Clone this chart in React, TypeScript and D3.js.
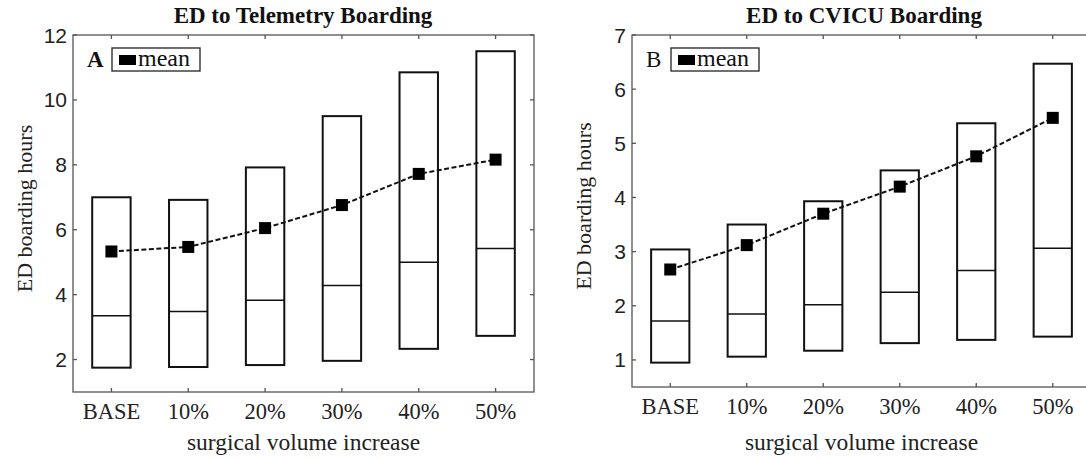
import React from "react";
import * as d3 from "d3";

// Scenario labels along the x axis
const categories = ["BASE", "10%", "20%", "30%", "40%", "50%"];

// Panel A: ED to Telemetry boarding hours
const telemetryUpper = [7.0, 6.92, 7.92, 9.5, 10.85, 11.5];
const telemetryMedian = [3.35, 3.48, 3.83, 4.28, 5.0, 5.42];
const telemetryLower = [1.75, 1.77, 1.83, 1.96, 2.33, 2.73];
const telemetryMean = [5.33, 5.47, 6.05, 6.76, 7.72, 8.16];
const telemetryTicks = [2, 4, 6, 8, 10, 12];

// Panel B: ED to CVICU boarding hours
const cvicuUpper = [3.04, 3.5, 3.93, 4.5, 5.37, 6.47];
const cvicuMedian = [1.72, 1.85, 2.02, 2.25, 2.65, 3.06];
const cvicuLower = [0.95, 1.06, 1.17, 1.31, 1.37, 1.43];
const cvicuMean = [2.67, 3.12, 3.7, 4.2, 4.76, 5.47];
const cvicuTicks = [1, 2, 3, 4, 5, 6, 7];

const SERIF = "'Liberation Serif', 'Times New Roman', serif";
const SANS = "'Liberation Sans', Arial, sans-serif";

type PanelProps = {
  title: string;
  letter: string;
  letterBold: boolean;
  left: number;
  right: number;
  top: number;
  bottom: number;
  yDomain: [number, number];
  yTicks: number[];
  upper: number[];
  median: number[];
  lower: number[];
  mean: number[];
  titleX: number;
};

function Panel(p: PanelProps) {
  const x = d3
    .scaleLinear()
    .domain([0.5, categories.length + 0.5])
    .range([p.left, p.right]);
  const y = d3.scaleLinear().domain(p.yDomain).range([p.bottom, p.top]);
  const boxHalf = 0.25;
  const tickLen = 4;
  const axisColor = "#555";
  const idx = categories.map((_, i) => i + 1);

  const meanLine = d3
    .line<number>()
    .x((_, i) => x(i + 1))
    .y((d) => y(d));

  const markerSize = 12;

  return (
    <g>
      {/* title */}
      <text
        x={p.titleX}
        y={23}
        textAnchor="middle"
        fontFamily={SERIF}
        fontWeight="bold"
        fontSize={23}
        fill="#111"
      >
        {p.title}
      </text>

      {/* axes frame */}
      <rect
        x={p.left}
        y={p.top}
        width={p.right - p.left}
        height={p.bottom - p.top}
        fill="none"
        stroke={axisColor}
        strokeWidth={1.3}
      />

      {/* x ticks on bottom and top, pointing inward */}
      {idx.map((v) => (
        <g key={"xt" + v}>
          <line x1={x(v)} x2={x(v)} y1={p.bottom} y2={p.bottom - tickLen} stroke={axisColor} strokeWidth={1.3} />
          <line x1={x(v)} x2={x(v)} y1={p.top} y2={p.top + tickLen} stroke={axisColor} strokeWidth={1.3} />
          <text
            x={x(v)}
            y={p.bottom + 27}
            textAnchor="middle"
            fontFamily={SERIF}
            fontSize={22.5}
            fill="#222"
          >
            {categories[v - 1]}
          </text>
        </g>
      ))}

      {/* y ticks on left and right */}
      {p.yTicks.map((t) => (
        <g key={"yt" + t}>
          <line x1={p.left} x2={p.left + tickLen} y1={y(t)} y2={y(t)} stroke={axisColor} strokeWidth={1.3} />
          <line x1={p.right} x2={p.right - tickLen} y1={y(t)} y2={y(t)} stroke={axisColor} strokeWidth={1.3} />
          <text
            x={p.left - 6}
            y={y(t)}
            dy="0.36em"
            textAnchor="end"
            fontFamily={SANS}
            fontSize={21}
            fill="#222"
          >
            {t}
          </text>
        </g>
      ))}

      {/* axis labels */}
      <text
        x={(p.left + p.right) / 2}
        y={450}
        textAnchor="middle"
        fontFamily={SERIF}
        fontSize={23.5}
        fill="#222"
      >
        surgical volume increase
      </text>
      <text
        transform={`translate(${p.left - 41},${(p.top + p.bottom) / 2 - 5}) rotate(-90)`}
        textAnchor="middle"
        fontFamily={SERIF}
        fontSize={22}
        fill="#222"
      >
        ED boarding hours
      </text>

      {/* boxes: lower to upper with median line */}
      {idx.map((v, i) => (
        <g key={"box" + v}>
          <rect
            x={x(v - boxHalf)}
            y={y(p.upper[i])}
            width={x(v + boxHalf) - x(v - boxHalf)}
            height={y(p.lower[i]) - y(p.upper[i])}
            fill="none"
            stroke="#111"
            strokeWidth={2}
          />
          <line
            x1={x(v - boxHalf)}
            x2={x(v + boxHalf)}
            y1={y(p.median[i])}
            y2={y(p.median[i])}
            stroke="#111"
            strokeWidth={1.5}
          />
        </g>
      ))}

      {/* mean trend */}
      <path
        d={meanLine(p.mean) || ""}
        fill="none"
        stroke="#111"
        strokeWidth={2}
        strokeDasharray="5,2.5"
      />
      {p.mean.map((m, i) => (
        <rect
          key={"m" + i}
          x={x(i + 1) - markerSize / 2}
          y={y(m) - markerSize / 2}
          width={markerSize}
          height={markerSize}
          fill="#000"
        />
      ))}

      {/* panel letter and legend */}
      <text
        x={p.left + 14}
        y={67}
        fontFamily={SERIF}
        fontWeight={p.letterBold ? "bold" : "normal"}
        fontSize={23}
        fill="#111"
      >
        {p.letter}
      </text>
      <rect x={p.left + 39} y={48} width={88} height={23} fill="#fff" stroke="#222" strokeWidth={1.3} />
      <rect x={p.left + 46} y={55} width={17} height={10} fill="#000" />
      <text x={p.left + 65} y={66} fontFamily={SERIF} fontSize={24} fill="#111">
        mean
      </text>
    </g>
  );
}

export default function App() {
  return (
    <svg
      width={1086}
      height={458}
      style={{ position: "absolute", left: 0, top: 0, background: "#fff" }}
    >
      <rect width={1086} height={458} fill="#fff" />
      <Panel
        title="ED to Telemetry Boarding"
        letter="A"
        letterBold={true}
        left={73}
        right={534}
        top={35}
        bottom={392}
        yDomain={[1, 12]}
        yTicks={telemetryTicks}
        upper={telemetryUpper}
        median={telemetryMedian}
        lower={telemetryLower}
        mean={telemetryMean}
        titleX={303}
      />
      <Panel
        title="ED to CVICU Boarding"
        letter="B"
        letterBold={false}
        left={632}
        right={1091}
        top={35}
        bottom={387}
        yDomain={[0.5, 7]}
        yTicks={cvicuTicks}
        upper={cvicuUpper}
        median={cvicuMedian}
        lower={cvicuLower}
        mean={cvicuMean}
        titleX={864}
      />
    </svg>
  );
}
